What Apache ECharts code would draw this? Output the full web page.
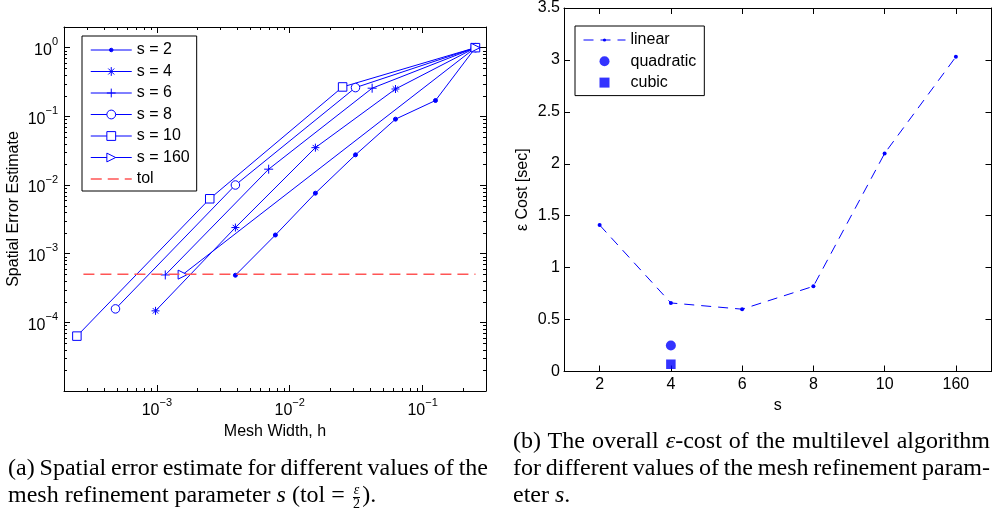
<!DOCTYPE html>
<html><head><meta charset="utf-8">
<script src="https://cdn.jsdelivr.net/npm/echarts@6/dist/echarts.min.js"></script>
<style>
html,body{margin:0;padding:0;background:#fff;}
#chart{position:absolute;left:0;top:0;width:992px;height:515px;}
.cap{position:absolute;font-family:'Liberation Serif','Times New Roman',serif;font-size:24px;line-height:27px;color:#000;}
.cap .j{text-align:justify;text-align-last:justify;word-spacing:-3px;}
.frac{display:inline-block;vertical-align:-0.42em;text-align:center;font-size:14px;line-height:12px;margin:0 2px;}
.frac span{display:block;}
.frac .num{border-bottom:1px solid #000;padding:0 1px 1px;}
</style></head><body>
<div id="chart"></div>
<div class="cap" style="left:8px;top:454px;width:480px;">
  <div class="j">(a) Spatial error estimate for different values of the</div>
  <div>mesh refinement parameter <i>s</i> (tol = <span class="frac"><span class="num"><i>ε</i></span><span>2</span></span>).</div>
</div>
<div class="cap" style="left:513px;top:427px;width:477px;">
  <div class="j">(b) The overall <i>ε</i>-cost of the multilevel algorithm</div>
  <div class="j">for different values of the mesh refinement param-</div>
  <div>eter <i>s</i>.</div>
</div>
<script>
// ---------- data (left panel: spatial error vs mesh width) ----------
const s2H = [0.0039, 0.0078, 0.0156, 0.03125, 0.0625, 0.125, 0.25];
const s2E = [4.85e-4, 1.87e-3, 7.6e-3, 2.75e-2, 0.091, 0.17, 1.0];
const s4H = [9.77e-4, 0.0039, 0.0156, 0.0625, 0.25];
const s4E = [1.47e-4, 2.4e-3, 0.035, 0.25, 1.0];
const s6H = [1.157e-3, 6.94e-3, 0.0417, 0.25];
const s6E = [4.9e-4, 0.017, 0.257, 1.0];
const s8H = [4.88e-4, 0.0039, 0.03125, 0.25];
const s8E = [1.57e-4, 0.0100, 0.262, 1.0];
const s10H = [2.5e-4, 0.0025, 0.025, 0.25];
const s10E = [6.3e-5, 6.3e-3, 0.268, 1.0];
const s160H = [1.5625e-3, 0.25];
const s160E = [4.95e-4, 1.0];
const tolH = [2.8e-4, 0.25];
const tolE = [5e-4, 5e-4];
const xMinorTicks = [3e-4,4e-4,5e-4,6e-4,7e-4,8e-4,9e-4,2e-3,3e-3,4e-3,5e-3,6e-3,7e-3,8e-3,9e-3,2e-2,3e-2,4e-2,5e-2,6e-2,7e-2,8e-2,9e-2,0.2];
const yMinorTicks = [2e-5,3e-5,4e-5,5e-5,6e-5,7e-5,8e-5,9e-5,2e-4,3e-4,4e-4,5e-4,6e-4,7e-4,8e-4,9e-4,2e-3,3e-3,4e-3,5e-3,6e-3,7e-3,8e-3,9e-3,2e-2,3e-2,4e-2,5e-2,6e-2,7e-2,8e-2,9e-2,0.2,0.3,0.4,0.5,0.6,0.7,0.8,0.9];

// ---------- data (right panel: epsilon cost vs s) ----------
const sLabels = ['2', '4', '6', '8', '10', '160'];
const costLinear = [1.41, 0.66, 0.60, 0.82, 2.10, 3.03];
const quadS = ['4'];
const quadCost = [0.25];
const cubicS = ['4'];
const cubicCost = [0.07];

// ---------- styling ----------
const FONT = "'Liberation Sans', Arial, Helvetica, sans-serif";
const BLUE = '#0000ff';
const RED = '#ff5555';
const SYM = {
  dot: 'path://M0,0M10,10M3,5A2,2,0,1,1,7,5A2,2,0,1,1,3,5Z',
  star: 'path://M5,0L5,10M0,5L10,5M1.6,1.6L8.4,8.4M8.4,1.6L1.6,8.4',
  plus: 'path://M5,0L5,10M0,5L10,5',
  circle: 'path://M0,5A5,5,0,1,1,10,5A5,5,0,1,1,0,5Z',
  square: 'path://M0,0L10,0L10,10L0,10Z',
  tri: 'path://M0,0L10,5L0,10Z'
};
const RICH = {
  b: {fontSize: 16, fontFamily: FONT, color: '#000', lineHeight: 22, verticalAlign: 'bottom'},
  e: {fontSize: 11, fontFamily: FONT, color: '#000', lineHeight: 12, verticalAlign: 'top'}
};
function powLabel(v) {
  const e = Math.round(Math.log(v) / Math.LN10);
  return '{b|10}{e|' + (e < 0 ? '\u2212' + (-e) : String(e)) + '}';
}
const txt = {fontSize: 16, fontFamily: FONT, color: '#000'};
const axLine = {show: true, onZero: false, lineStyle: {color: '#000', width: 1}};
const tick = {show: true, inside: true, length: 6, lineStyle: {color: '#000', width: 1}};

function errSeries(name, hs, es, symbol, size, fill) {
  return {
    name: name, type: 'line', xAxisIndex: 0, yAxisIndex: 0,
    data: hs.map((h, i) => [h, es[i]]),
    symbol: symbol, symbolSize: size, showSymbol: true,
    lineStyle: {color: BLUE, width: 1},
    itemStyle: {color: fill, borderColor: BLUE, borderWidth: 1},
    emphasis: {disabled: true}, z: 3
  };
}
function minorTicks(values, dir) {
  return {
    type: 'custom', xAxisIndex: 0, yAxisIndex: 0, silent: true, clip: false, z: 1,
    data: values.map(v => dir === 'x' ? [v, 1e-3] : [1e-3, v]),
    renderItem: function (params, api) {
      const p = api.coord([api.value(0), api.value(1)]);
      const cs = params.coordSys;
      const L = 3;
      let segs;
      if (dir === 'x') {
        const x = Math.round(p[0]) + 0.5;
        segs = [[x, cs.y + cs.height, x, cs.y + cs.height - L], [x, cs.y, x, cs.y + L]];
      } else {
        const y = Math.round(p[1]) + 0.5;
        segs = [[cs.x, y, cs.x + L, y], [cs.x + cs.width, y, cs.x + cs.width - L, y]];
      }
      return {type: 'group', children: segs.map(s => ({
        type: 'line', shape: {x1: s[0], y1: s[1], x2: s[2], y2: s[3]},
        style: {stroke: '#000', lineWidth: 1}
      }))};
    }
  };
}

const logX = (pos, show) => ({
  type: 'log', logBase: 10, gridIndex: 0, position: pos, min: 2e-4, max: 0.3,
  axisLine: axLine, axisTick: tick, splitLine: {show: false}, minorTick: {show: false},
  axisLabel: {show: show, margin: 6, showMinLabel: false, showMaxLabel: false, formatter: powLabel, rich: RICH, color: '#000'}
});
const logY = (pos, show) => ({
  type: 'log', logBase: 10, gridIndex: 0, position: pos, min: 1e-5, max: 2,
  axisLine: axLine, axisTick: tick, splitLine: {show: false}, minorTick: {show: false},
  axisLabel: {show: show, margin: 6, showMinLabel: false, showMaxLabel: false, formatter: powLabel, rich: RICH, color: '#000'}
});
const catX = (pos, show) => ({
  type: 'category', gridIndex: 1, position: pos, data: sLabels, boundaryGap: true,
  axisLine: axLine, axisTick: Object.assign({alignWithLabel: true}, tick), splitLine: {show: false},
  axisLabel: Object.assign({show: show, margin: 5}, txt)
});
const valY = (pos, show) => ({
  type: 'value', gridIndex: 1, position: pos, min: 0, max: 3.5, interval: 0.5,
  axisLine: axLine, axisTick: tick, splitLine: {show: false},
  axisLabel: Object.assign({show: show, margin: 4}, txt)
});

const xAxes = [logX('bottom', true), logX('top', false), catX('bottom', true), catX('top', false)];
Object.assign(xAxes[0], {name: 'Mesh Width, h', nameLocation: 'middle', nameGap: 33, nameTextStyle: txt});
Object.assign(xAxes[2], {name: 's', nameLocation: 'middle', nameGap: 24, nameTextStyle: txt});
const yAxes = [logY('left', true), logY('right', false), valY('left', true), valY('right', false)];
Object.assign(yAxes[0], {name: 'Spatial Error Estimate', nameLocation: 'middle', nameGap: 42, nameTextStyle: txt});
Object.assign(yAxes[2], {name: 'ε Cost [sec]', nameLocation: 'middle', nameGap: 33, nameTextStyle: txt});

const option = {
  animation: false,
  backgroundColor: '#fff',
  textStyle: {fontFamily: FONT},
  grid: [
    {left: 64, top: 27, width: 422, height: 364},
    {left: 564, top: 7, width: 427.5, height: 364.5}
  ],
  xAxis: xAxes,
  yAxis: yAxes,
  legend: [
    {
      left: 82, top: 36, orient: 'vertical', itemWidth: 41, itemHeight: 11, itemGap: 5.5,
      padding: [6, 7, 4, 8], backgroundColor: '#fff', borderColor: '#000', borderWidth: 1, borderRadius: 0,
      textStyle: txt, selectedMode: false,
      itemStyle: {borderWidth: 1}, lineStyle: {width: 1},
      data: [
        {name: 's = 2', itemStyle: {color: BLUE}},
        {name: 's = 4', itemStyle: {color: BLUE}},
        {name: 's = 6', itemStyle: {color: BLUE}},
        {name: 's = 8', itemStyle: {color: '#fff'}},
        {name: 's = 10', itemStyle: {color: '#fff'}},
        {name: 's = 160', itemStyle: {color: '#fff'}},
        {name: 'tol', itemStyle: {color: 'rgba(0,0,0,0)', borderWidth: 0, opacity: 0}, lineStyle: {width: 1.5}}
      ]
    },
    {
      left: 575, top: 26, orient: 'vertical', itemWidth: 42, itemHeight: 10, itemGap: 5.3,
      padding: [6, 8, 5, 8], backgroundColor: '#fff', borderColor: '#000', borderWidth: 1, borderRadius: 0,
      textStyle: txt, selectedMode: false, symbolKeepAspect: true,
      itemStyle: {borderWidth: 0}, lineStyle: {width: 1},
      data: [
        {name: 'linear', itemStyle: {color: BLUE}},
        {name: 'quadratic', itemStyle: {color: BLUE}},
        {name: 'cubic', itemStyle: {color: BLUE}}
      ]
    }
  ],
  series: [
    minorTicks(xMinorTicks, 'x'),
    minorTicks(yMinorTicks, 'y'),
    errSeries('s = 2', s2H, s2E, SYM.dot, 10, BLUE),
    errSeries('s = 4', s4H, s4E, SYM.star, 8, BLUE),
    errSeries('s = 6', s6H, s6E, SYM.plus, 9, BLUE),
    errSeries('s = 8', s8H, s8E, SYM.circle, 8.5, '#fff'),
    errSeries('s = 10', s10H, s10E, SYM.square, 8.5, '#fff'),
    errSeries('s = 160', s160H, s160E, SYM.tri, 9, '#fff'),
    {
      name: 'tol', type: 'line', xAxisIndex: 0, yAxisIndex: 0,
      data: tolH.map((h, i) => [h, tolE[i]]),
      symbol: 'circle', showSymbol: false, symbolSize: 0,
      itemStyle: {color: 'rgba(0,0,0,0)', borderWidth: 0},
      lineStyle: {color: RED, width: 1.5, type: [11, 6]},
      emphasis: {disabled: true}, z: 4
    },
    {
      name: 'linear', type: 'line', xAxisIndex: 2, yAxisIndex: 2,
      data: costLinear,
      symbol: SYM.dot, symbolSize: 10, showSymbol: true,
      lineStyle: {color: BLUE, width: 1, type: [10, 7]},
      itemStyle: {color: BLUE, borderWidth: 0},
      emphasis: {disabled: true}
    },
    {
      name: 'quadratic', type: 'scatter', xAxisIndex: 2, yAxisIndex: 2,
      data: quadS.map((s, i) => [s, quadCost[i]]),
      symbol: 'circle', symbolSize: 10,
      itemStyle: {color: BLUE}, emphasis: {disabled: true}
    },
    {
      name: 'cubic', type: 'scatter', xAxisIndex: 2, yAxisIndex: 2,
      data: cubicS.map((s, i) => [s, cubicCost[i]]),
      symbol: SYM.square, symbolSize: 9.5, symbolKeepAspect: true,
      itemStyle: {color: BLUE}, emphasis: {disabled: true}
    }
  ]
};
const chart = echarts.init(document.getElementById('chart'), null, {renderer: 'canvas'});
chart.setOption(option);
</script>
</body></html>
